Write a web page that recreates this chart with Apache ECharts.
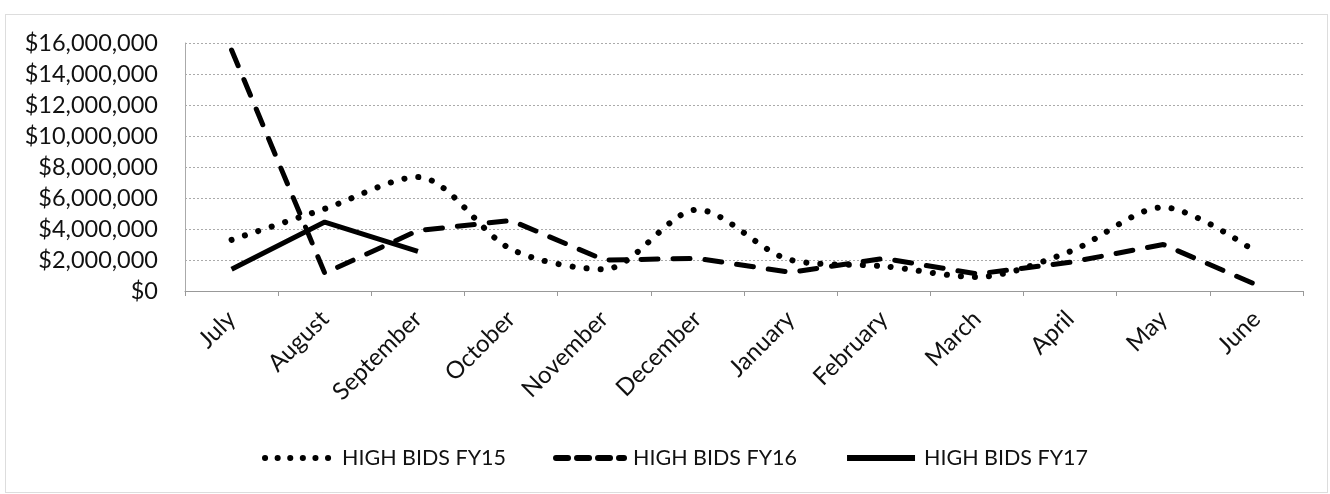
<!DOCTYPE html>
<html>
<head>
<meta charset="utf-8">
<script src="https://cdn.jsdelivr.net/npm/echarts@6/dist/echarts.min.js"></script>
<style>
  html, body { margin: 0; padding: 0; background: #fff; }
  #chart { width: 1330px; height: 494px; }
</style>
</head>
<body>
<div id="chart"></div>
<script>
// High bids by month, three fiscal years
const months = ['July', 'August', 'September', 'October', 'November', 'December',
    'January', 'February', 'March', 'April', 'May', 'June'];
const fy15 = [3300000, 5300000, 7350000, 2700000, 1400000, 5250000,
    2000000, 1600000, 900000, 2550000, 5400000, 2500000];
const fy16 = [15550000, 1150000, 3900000, 4550000, 2000000, 2100000,
    1200000, 2100000, 1100000, 1850000, 3000000, 400000];
const fy17 = [1400000, 4450000, 2550000];
const seriesNames = ['HIGH BIDS FY15', 'HIGH BIDS FY16', 'HIGH BIDS FY17'];

const fontFamily = 'Lato, "Open Sans", sans-serif';

const dotted = [0.1, 14];
const dashed = [17, 15];

function money(v) {
    return '$' + v.toLocaleString('en-US');
}

const chart = echarts.init(document.getElementById('chart'));

const option = {
    animation: false,
    textStyle: { fontFamily: fontFamily },
    graphic: [{
        type: 'rect',
        shape: { x: 5.5, y: 14.5, width: 1322, height: 478 },
        style: { fill: 'none', stroke: '#bbb', lineWidth: 1, lineDash: [1, 1] },
        silent: true
    }],
    grid: {
        left: 185,
        right: 27,
        top: 43,
        bottom: 203
    },
    legend: {
        data: [
            { name: seriesNames[0], lineStyle: { type: [0.1, 12.5], width: 6, cap: 'round' } },
            { name: seriesNames[1], lineStyle: { type: [12, 9], width: 6, cap: 'round' } },
            { name: seriesNames[2], lineStyle: { width: 6 } }
        ],
        left: 257,
        top: 442,
        itemWidth: 68,
        itemHeight: 12,
        itemGap: 47,
        itemStyle: { opacity: 0 },
        textStyle: { fontSize: 21.5, color: '#111', fontFamily: fontFamily, padding: [0, 0, 0, 4] }
    },
    xAxis: {
        type: 'category',
        data: months,
        boundaryGap: true,
        axisLine: { lineStyle: { color: '#999', width: 1 } },
        axisTick: { show: true, length: 5, lineStyle: { color: '#999' } },
        axisLabel: {
            rotate: 45,
            interval: 0,
            fontSize: 24,
            color: '#111',
            margin: 24
        }
    },
    yAxis: {
        type: 'value',
        min: 0,
        max: 16000000,
        interval: 2000000,
        axisLine: { show: true, lineStyle: { color: '#aaa' } },
        axisTick: { show: false },
        splitLine: { lineStyle: { color: '#aaa', type: [2, 2], width: 1 } },
        axisLabel: {
            fontSize: 23.5,
            color: '#111',
            margin: 27,
            formatter: money
        }
    },
    series: [
        {
            name: seriesNames[0],
            type: 'line',
            data: fy15,
            symbol: 'none',
            smooth: 0.3,
            lineStyle: { color: '#000', width: 6, type: dotted, cap: 'round' },
            itemStyle: { color: '#000' }
        },
        {
            name: seriesNames[1],
            type: 'line',
            data: fy16,
            symbol: 'none',
            lineStyle: { color: '#000', width: 5, type: dashed, cap: 'round' },
            itemStyle: { color: '#000' }
        },
        {
            name: seriesNames[2],
            type: 'line',
            data: fy17,
            symbol: 'none',
            lineStyle: { color: '#000', width: 5 },
            itemStyle: { color: '#000' }
        }
    ]
};

chart.setOption(option);

window.addEventListener('resize', function() {
    chart.resize();
});
</script>
</body>
</html>
